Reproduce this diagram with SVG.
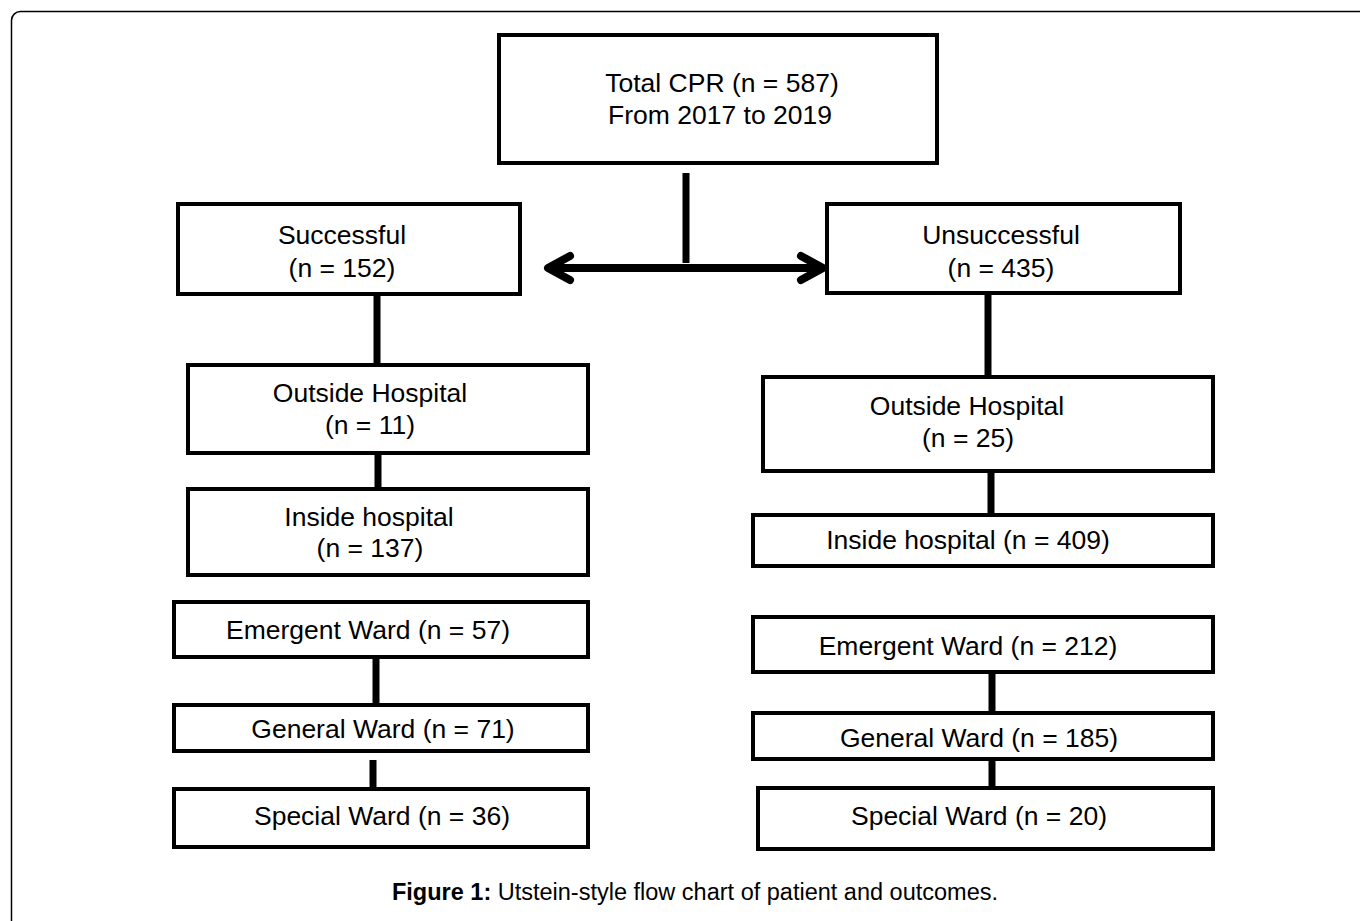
<svg xmlns="http://www.w3.org/2000/svg" width="1360" height="921" viewBox="0 0 1360 921">
<defs>
<style>
.box{fill:#fff;stroke:#000;stroke-width:4}
.t{font-family:"Liberation Sans",Arial,sans-serif;font-size:26.5px;fill:#000;text-anchor:middle}
.c{stroke:#000;stroke-width:7;fill:none}
.cap{font-family:"Liberation Sans",Arial,sans-serif;font-size:23.5px;fill:#000;text-anchor:middle}
</style>
<marker id="chev" markerUnits="userSpaceOnUse" orient="auto-start-reverse" refX="0" refY="0" markerWidth="40" markerHeight="40" viewBox="-30 -20 40 40" overflow="visible">
<path d="M -22 -12 L 0 0 L -22 12" fill="none" stroke="#000" stroke-width="8" stroke-linecap="round" stroke-linejoin="round"/>
</marker>
</defs>
<rect width="1360" height="921" fill="#fff"/>
<rect x="11.5" y="11.5" width="1400" height="960" rx="9" fill="none" stroke="#000" stroke-width="1.5"/>

<g id="connectors">
<line class="c" x1="686" y1="173" x2="686" y2="263"/>
<line x1="548" y1="268" x2="823" y2="268" stroke="#000" stroke-width="8" marker-start="url(#chev)" marker-end="url(#chev)"/>
<line class="c" x1="377" y1="294" x2="377" y2="365"/>
<line class="c" x1="378" y1="453" x2="378" y2="490"/>
<line class="c" x1="376" y1="657" x2="376" y2="705"/>
<line class="c" x1="373" y1="760" x2="373" y2="789"/>
<line class="c" x1="988" y1="293" x2="988" y2="377"/>
<line class="c" x1="991" y1="471" x2="991" y2="515"/>
<line class="c" x1="992" y1="672" x2="992" y2="713"/>
<line class="c" x1="992" y1="759" x2="992" y2="788"/>
</g>

<g id="total">
<rect class="box" x="499" y="35" width="438" height="128"/>
<text class="t" x="722" y="92">Total CPR (n = 587)</text>
<text class="t" x="720" y="124">From 2017 to 2019</text>
</g>

<g id="successful">
<rect class="box" x="178" y="204" width="342" height="90"/>
<text class="t" x="342" y="244">Successful</text>
<text class="t" x="342" y="277">(n = 152)</text>
</g>

<g id="unsuccessful">
<rect class="box" x="827" y="204" width="353" height="89"/>
<text class="t" x="1001" y="244">Unsuccessful</text>
<text class="t" x="1001" y="277">(n = 435)</text>
</g>

<g id="s-outside">
<rect class="box" x="188" y="365" width="400" height="88"/>
<text class="t" x="370" y="402">Outside Hospital</text>
<text class="t" x="370" y="434">(n = 11)</text>
</g>

<g id="s-inside">
<rect class="box" x="188" y="489" width="400" height="86"/>
<text class="t" x="369" y="526">Inside hospital</text>
<text class="t" x="370" y="557">(n = 137)</text>
</g>

<g id="s-emergent">
<rect class="box" x="174" y="602" width="414" height="55"/>
<text class="t" x="368" y="639">Emergent Ward (n = 57)</text>
</g>

<g id="s-general">
<rect class="box" x="174" y="705" width="414" height="46"/>
<text class="t" x="383" y="738">General Ward (n = 71)</text>
</g>

<g id="s-special">
<rect class="box" x="174" y="789" width="414" height="58"/>
<text class="t" x="382" y="825">Special Ward (n = 36)</text>
</g>

<g id="u-outside">
<rect class="box" x="763" y="377" width="450" height="94"/>
<text class="t" x="967" y="415">Outside Hospital</text>
<text class="t" x="968" y="447">(n = 25)</text>
</g>

<g id="u-inside">
<rect class="box" x="753" y="515" width="460" height="51"/>
<text class="t" x="968" y="549">Inside hospital (n = 409)</text>
</g>

<g id="u-emergent">
<rect class="box" x="753" y="617" width="460" height="55"/>
<text class="t" x="968" y="655">Emergent Ward (n = 212)</text>
</g>

<g id="u-general">
<rect class="box" x="753" y="713" width="460" height="46"/>
<text class="t" x="979" y="747">General Ward (n = 185)</text>
</g>

<g id="u-special">
<rect class="box" x="758" y="788" width="455" height="61"/>
<text class="t" x="979" y="825">Special Ward (n = 20)</text>
</g>

<g id="caption">
<text class="cap" x="695" y="900"><tspan font-weight="bold">Figure 1:</tspan> Utstein-style flow chart of patient and outcomes.</text>
</g>
</svg>
